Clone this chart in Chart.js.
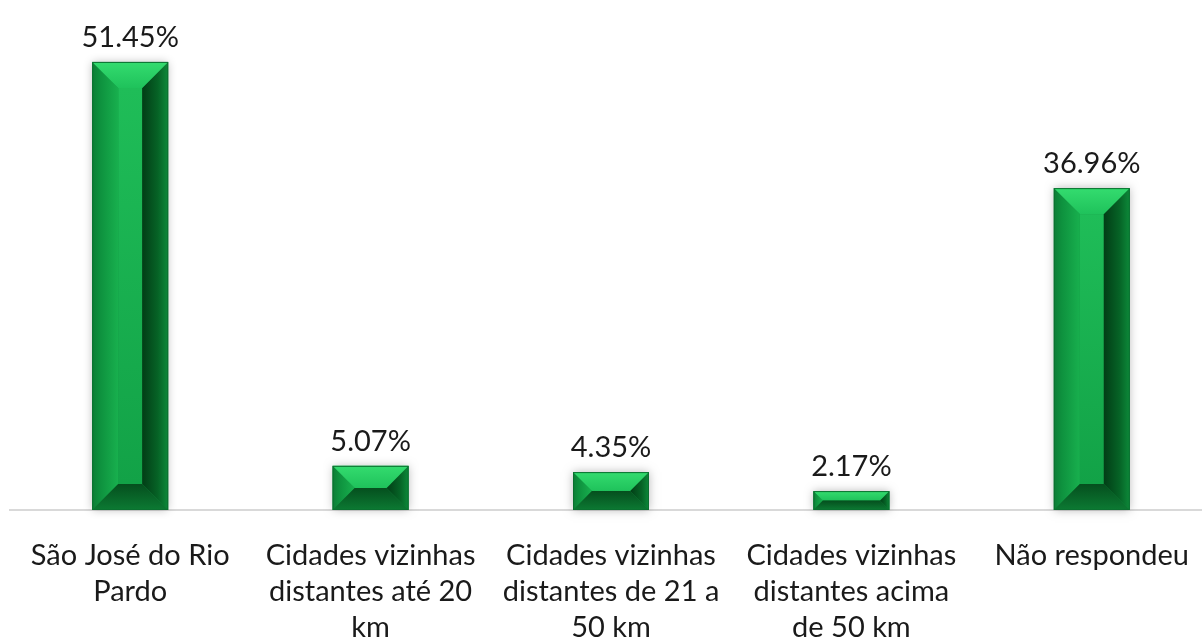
<!DOCTYPE html>
<html>
<head>
<meta charset="utf-8">
<script src="https://cdn.jsdelivr.net/npm/chart.js@4/dist/chart.umd.min.js"></script>
<style>
    html, body { margin: 0; padding: 0; background: #fff; overflow: hidden; }
    #wrap { position: relative; width: 1202px; height: 642px; overflow: hidden; }
    #wrap canvas { position: absolute; left: 0; top: 0; }
</style>
</head>
<body>
<div id="wrap"><canvas id="chart" width="1212" height="642" style="width:1212px;height:642px"></canvas></div>
<script>
(function () {
    'use strict';

    // ── Data ─────────────────────────────────────────────────────────
    var categories = [
        ['São José do Rio', 'Pardo'],
        ['Cidades vizinhas', 'distantes até 20', 'km'],
        ['Cidades vizinhas', 'distantes de 21 a', '50 km'],
        ['Cidades vizinhas', 'distantes acima', 'de 50 km'],
        ['Não respondeu']
    ];
    var shares = [51.45, 5.07, 4.35, 2.17, 36.96];
    var yMax = 55;

    var FONT = 'Lato, "Open Sans", "Liberation Sans", sans-serif';

    // ── Bevelled bar painter ─────────────────────────────────────────
    function lg(ctx, x0, y0, x1, y1, stops) {
        var g = ctx.createLinearGradient(x0, y0, x1, y1);
        stops.forEach(function (s) { g.addColorStop(s[0], s[1]); });
        return g;
    }

    function poly(ctx, pts, fill) {
        ctx.beginPath();
        ctx.moveTo(pts[0][0], pts[0][1]);
        for (var i = 1; i < pts.length; i++) ctx.lineTo(pts[i][0], pts[i][1]);
        ctx.closePath();
        ctx.fillStyle = fill;
        ctx.fill();
    }

    function drawBevelBar(ctx, el) {
        var w = el.width;
        var l = el.x - w / 2, r = el.x + w / 2;
        var t = Math.min(el.y, el.base), b = Math.max(el.y, el.base);
        var h = b - t;
        var bv = Math.min(26, h / 2, w / 2);
        var il = l + bv, ir = r - bv, it = t + bv, ib = b - bv;

        // soft halo
        ctx.save();
        ctx.shadowColor = 'rgba(0,0,0,0.28)';
        ctx.shadowBlur = 9;
        ctx.fillStyle = '#0f8a3c';
        ctx.fillRect(l, t, w, h);
        ctx.restore();

        // face
        ctx.fillStyle = lg(ctx, 0, it, 0, ib, [[0, '#1fbd58'], [1, '#12a247']]);
        ctx.fillRect(il, it, ir - il, ib - it);

        // left bevel
        poly(ctx, [[l, t], [il, it], [il, ib], [l, b]],
            lg(ctx, l, 0, il, 0, [[0, '#0d7d36'], [0.3, '#0e913e'], [1, '#18b04e']]));
        // right bevel
        poly(ctx, [[r, t], [ir, it], [ir, ib], [r, b]],
            lg(ctx, ir, 0, r, 0, [[0, '#023d16'], [0.6, '#066326'], [1, '#0d8a3a']]));
        // top bevel
        poly(ctx, [[l, t], [r, t], [ir, it], [il, it]],
            lg(ctx, 0, t, 0, it, [[0, '#34dc6f'], [1, '#1fc25b']]));
        // bottom bevel
        poly(ctx, [[l, b], [r, b], [ir, ib], [il, ib]],
            lg(ctx, 0, ib, 0, b, [[0, '#054f1e'], [1, '#0c7a33']]));

        // outline
        ctx.strokeStyle = '#0b7030';
        ctx.lineWidth = 1;
        ctx.strokeRect(l + 0.5, t + 0.5, w - 1, h - 1);
    }

    var bevelPlugin = {
        id: 'bevelBars',
        afterDatasetsDraw: function (chart) {
            var ctx = chart.ctx;
            var meta = chart.getDatasetMeta(0);
            meta.data.forEach(function (el, i) {
                drawBevelBar(ctx, el);

                // value label
                ctx.save();
                ctx.fillStyle = '#1a1a1a';
                ctx.font = '29px ' + FONT;
                ctx.textAlign = 'center';
                ctx.textBaseline = 'middle';
                ctx.fillText(shares[i].toFixed(2) + '%', el.x, el.y - 24);
                ctx.restore();
            });
        }
    };

    // ── Chart ────────────────────────────────────────────────────────
    new Chart(document.getElementById('chart'), {
        type: 'bar',
        data: {
            labels: categories,
            datasets: [{
                data: shares,
                backgroundColor: 'rgba(0,0,0,0)',
                borderWidth: 0,
                barPercentage: 0.316,
                categoryPercentage: 1
            }]
        },
        options: {
            responsive: false,
            animation: false,
            layout: { padding: { top: 31, left: 10, right: 0, bottom: 0 } },
            plugins: {
                legend: { display: false },
                tooltip: { enabled: false }
            },
            scales: {
                x: {
                    grid: { display: false, drawTicks: false },
                    border: { display: true, color: '#d9d9d9', width: 2 },
                    ticks: {
                        color: '#1a1a1a',
                        padding: 28,
                        maxRotation: 0,
                        autoSkip: false,
                        font: { family: FONT, size: 29, lineHeight: 1.24 }
                    },
                    afterFit: function (scale) {
                        scale.height = 132;
                        scale.paddingLeft = 0;
                        scale.paddingRight = 0;
                    }
                },
                y: {
                    display: false,
                    min: 0,
                    max: yMax
                }
            }
        },
        plugins: [bevelPlugin]
    });
})();
</script>
</body>
</html>
